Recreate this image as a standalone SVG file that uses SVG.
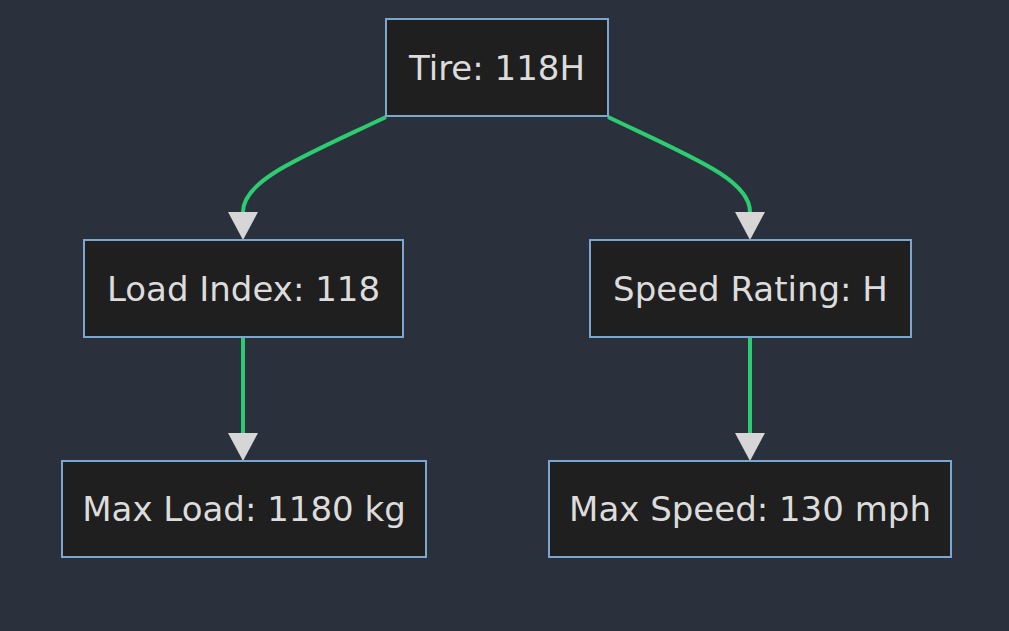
<svg xmlns="http://www.w3.org/2000/svg" width="1009" height="631" viewBox="0 0 1009 631">
<style>
.n rect{fill:#1f1f1f;stroke:#7ba7cf;stroke-width:2}
.n text{fill:#dcdcdc;font-family:"DejaVu Sans",sans-serif;font-size:34px;text-anchor:middle;dominant-baseline:central}
.e{fill:none;stroke:#2ecc71;stroke-width:4}
.h{fill:#d6d6d6}
</style>
<rect width="1009" height="631" fill="#2a303c"/>
<g id="edges">
<path class="e" d="M386,117 C300,158 243,180 243,212"/>
<path class="h" d="M228,212 L258,212 L243,240 Z"/>
<path class="e" d="M608,117 C694,158 750,180 750,212"/>
<path class="h" d="M735,212 L765,212 L750,240 Z"/>
<path class="e" d="M243,338 L243,433"/>
<path class="h" d="M228,433 L258,433 L243,461 Z"/>
<path class="e" d="M750,338 L750,433"/>
<path class="h" d="M735,433 L765,433 L750,461 Z"/>
</g>
<g id="tire" class="n"><rect x="386" y="19" width="222" height="97"/><text x="497" y="68">Tire: 118H</text></g>
<g id="load" class="n"><rect x="84" y="240" width="319" height="97"/><text x="243.5" y="289">Load Index: 118</text></g>
<g id="speed" class="n"><rect x="590" y="240" width="321" height="97"/><text x="750.5" y="289">Speed Rating: H</text></g>
<g id="maxload" class="n"><rect x="62" y="461" width="364" height="96"/><text x="244" y="509">Max Load: 1180 kg</text></g>
<g id="maxspeed" class="n"><rect x="549" y="461" width="402" height="96"/><text x="750" y="509">Max Speed: 130 mph</text></g>
</svg>
